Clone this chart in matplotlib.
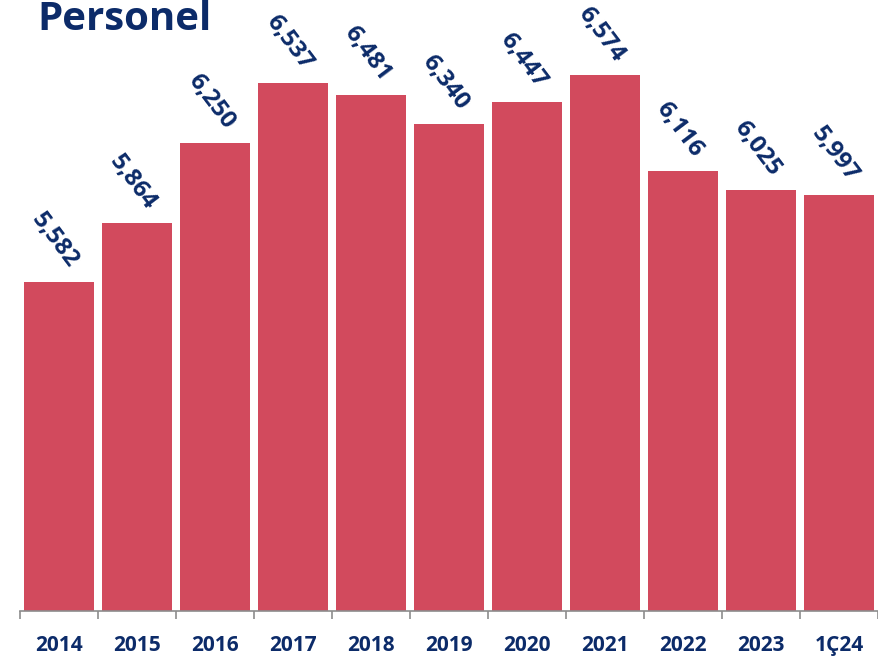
import numpy as np
import matplotlib.pyplot as plt

# Personel sayıları
categories = ['2014', '2015', '2016', '2017', '2018', '2019', '2020',
              '2021', '2022', '2023', '1Ç24']
values = [5582, 5864, 6250, 6537, 6481, 6340, 6447, 6574, 6116, 6025, 5997]
labels = ['5,582', '5,864', '6,250', '6,537', '6,481', '6,340', '6,447',
          '6,574', '6,116', '6,025', '5,997']

bar_color = '#D24A5D'
text_color = '#0C2B69'

plt.rcParams['font.family'] = ['Open Sans', 'DejaVu Sans']

fig = plt.figure(figsize=(8.79, 6.59), dpi=100)
ax = fig.add_axes([20 / 879, 48 / 659, 858 / 879, 611 / 659])

x = np.arange(len(categories))
ax.bar(x, values, width=0.9, color=bar_color, zorder=2)

# Подписи значений, повернутые вниз-вправо
for xi, v, lab in zip(x, values, labels):
    ax.annotate(lab, (xi, v), xytext=(-3, 6.5), textcoords='offset points',
                rotation=-53, ha='center', va='bottom',
                fontsize=17.5, fontweight='bold', color=text_color,
                annotation_clip=False)

ax.set_xlim(-0.5, len(categories) - 0.5)
ax.set_ylim(4000, 6936)

for side in ['top', 'right', 'left']:
    ax.spines[side].set_visible(False)
ax.spines['bottom'].set_color('#8C8C8C')
ax.spines['bottom'].set_linewidth(1.2)
ax.set_yticks([])

ax.set_xticks(x)
ax.set_xticklabels(categories, fontsize=15, fontweight='bold', color=text_color)
ax.tick_params(axis='x', which='major', length=0, pad=17)
ax.set_xticks(np.arange(len(categories) + 1) - 0.5, minor=True)
ax.tick_params(axis='x', which='minor', length=6, width=1.2, color='#8C8C8C',
               direction='out')

fig.text(37 / 879, 1 - 0 / 659, 'Personel', fontsize=29, fontweight='bold',
         color=text_color, ha='left', va='top')

fig.savefig('out.png', dpi=100)
